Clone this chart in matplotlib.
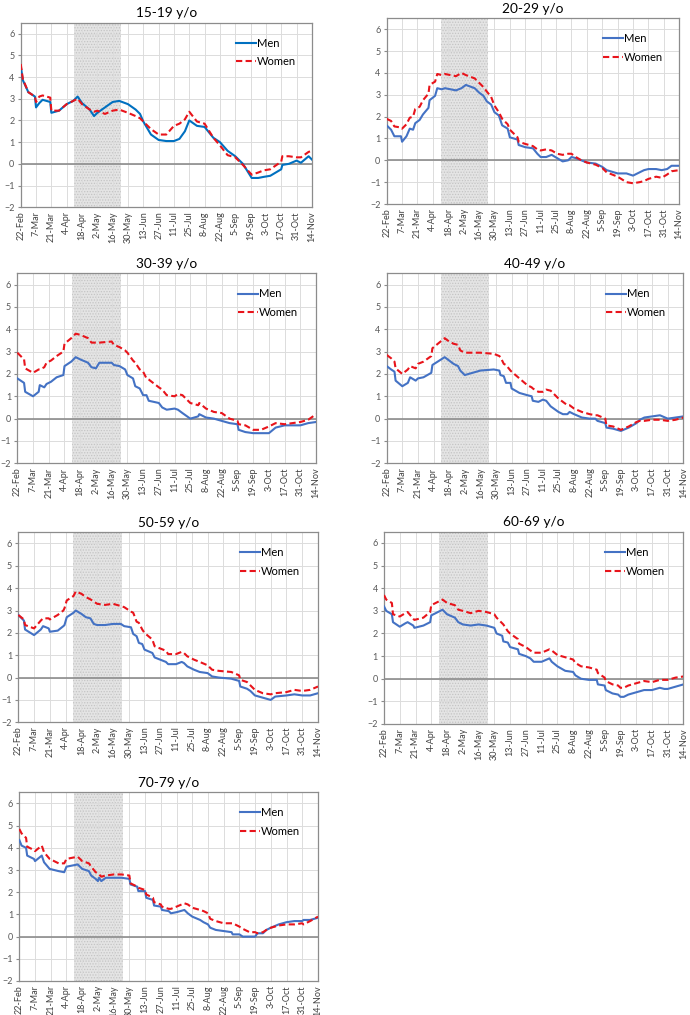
import matplotlib
matplotlib.use("Agg")
import numpy as np
import matplotlib.pyplot as plt

plt.rcParams['font.family'] = ['Lato', 'DejaVu Sans']
plt.rcParams['hatch.linewidth'] = 0.6

# --- DATOS (días desde 22-Feb) ---
tick_labels = ["22-Feb", "7-Mar", "21-Mar", "4-Apr", "18-Apr", "2-May", "16-May",
               "30-May", "13-Jun", "27-Jun", "11-Jul", "25-Jul", "8-Aug", "22-Aug",
               "5-Sep", "19-Sep", "3-Oct", "17-Oct", "31-Oct", "14-Nov"]
shade_start, shade_end = 49, 92

# 15-19
days_15 = [0, 2, 7, 13, 14, 17, 20, 27, 28, 35, 42, 48, 52, 56, 63, 67, 70, 77, 84, 90,
           98, 105, 109, 112, 119, 126, 133, 140, 145, 150, 154, 161, 168, 176, 182, 189,
           196, 203, 211, 217, 222, 228, 238, 239, 245, 252, 256, 263, 266]
men_15 = [4.5, 3.85, 3.3, 3.1, 2.6, 2.8, 2.95, 2.85, 2.35, 2.45, 2.75, 2.9, 3.1, 2.8, 2.5,
          2.2, 2.35, 2.6, 2.85, 2.9, 2.75, 2.5, 2.3, 1.95, 1.35, 1.1, 1.05, 1.05, 1.15, 1.5,
          2.0, 1.75, 1.7, 1.2, 1.0, 0.6, 0.35, 0.0, -0.65, -0.65, -0.6, -0.55, -0.25, -0.05,
          0.0, 0.15, 0.05, 0.35, 0.2]
women_15 = [4.6, 3.9, 3.3, 3.1, 2.85, 3.1, 3.15, 3.05, 2.45, 2.45, 2.75, 2.9, 3.0, 2.75,
            2.5, 2.4, 2.45, 2.3, 2.45, 2.5, 2.35, 2.2, 2.1, 1.95, 1.6, 1.35, 1.35, 1.75, 1.85,
            2.05, 2.4, 1.95, 1.85, 1.2, 0.85, 0.4, 0.3, -0.05, -0.5, -0.4, -0.3, -0.25, 0.1,
            0.35, 0.35, 0.3, 0.3, 0.55, 0.6]

# 20-29
days_20 = [0, 4, 7, 13, 14, 18, 21, 24, 26, 30, 33, 38, 39, 44, 46, 50, 53, 63, 68, 72, 80,
           84, 88, 91, 95, 98, 102, 105, 110, 112, 119, 120, 126, 133, 137, 140, 145, 150,
           155, 160, 165, 168, 172, 177, 182, 190, 196, 200, 210, 218, 224, 230, 234, 238,
           245, 250, 255, 259, 266]
men_20 = [1.6, 1.4, 1.1, 1.1, 0.85, 1.1, 1.45, 1.4, 1.7, 1.85, 2.1, 2.4, 2.75, 2.95, 3.3,
          3.25, 3.3, 3.2, 3.3, 3.45, 3.3, 3.1, 2.95, 2.7, 2.55, 2.2, 2.05, 1.6, 1.45, 1.05,
          0.95, 0.7, 0.6, 0.55, 0.3, 0.15, 0.15, 0.25, 0.1, -0.05, 0.0, 0.15, 0.1, 0.0, -0.1,
          -0.15, -0.3, -0.45, -0.6, -0.6, -0.7, -0.55, -0.45, -0.4, -0.4, -0.45, -0.4, -0.25,
          -0.25]
women_20 = [1.9, 1.8, 1.55, 1.5, 1.45, 1.65, 1.95, 2.0, 2.35, 2.45, 2.75, 3.05, 3.45, 3.6,
            3.95, 3.9, 3.95, 3.85, 4.0, 3.9, 3.75, 3.55, 3.35, 3.15, 2.9, 2.5, 2.2, 1.9, 1.65,
            1.4, 1.05, 0.85, 0.75, 0.65, 0.5, 0.45, 0.5, 0.45, 0.3, 0.25, 0.3, 0.3, 0.15, 0.0,
            -0.1, -0.2, -0.35, -0.55, -0.75, -1.0, -1.05, -1.0, -0.95, -0.85, -0.75, -0.8,
            -0.65, -0.5, -0.45]

# 30-39
days_30 = [0, 6, 7, 14, 19, 20, 24, 26, 30, 35, 41, 42, 48, 52, 56, 63, 66, 70, 73, 84, 86,
           91, 96, 98, 103, 105, 109, 112, 115, 117, 126, 129, 133, 140, 143, 147, 154, 161,
           162, 168, 175, 182, 189, 196, 197, 203, 210, 217, 224, 230, 238, 245, 252, 259, 266]
men_30 = [1.8, 1.6, 1.2, 1.0, 1.2, 1.5, 1.4, 1.55, 1.65, 1.85, 1.95, 2.35, 2.55, 2.75, 2.65,
          2.5, 2.3, 2.25, 2.5, 2.5, 2.4, 2.35, 2.2, 1.95, 1.8, 1.45, 1.35, 1.05, 1.05, 0.8,
          0.7, 0.5, 0.4, 0.45, 0.4, 0.25, 0.0, 0.1, 0.2, 0.05, 0.0, -0.1, -0.2, -0.25, -0.5,
          -0.6, -0.65, -0.65, -0.65, -0.4, -0.3, -0.3, -0.3, -0.2, -0.15]
women_30 = [2.95, 2.65, 2.25, 2.05, 2.2, 2.2, 2.3, 2.5, 2.6, 2.8, 3.0, 3.35, 3.6, 3.8, 3.75,
            3.6, 3.4, 3.4, 3.4, 3.45, 3.3, 3.2, 3.05, 2.95, 2.6, 2.5, 2.2, 2.1, 1.8, 1.75,
            1.4, 1.3, 1.05, 1.0, 1.1, 1.05, 0.7, 0.6, 0.7, 0.45, 0.3, 0.25, 0.0, -0.1, -0.25,
            -0.3, -0.5, -0.5, -0.35, -0.2, -0.25, -0.2, -0.15, -0.05, 0.2]

# 40-49
days_40 = [0, 4, 7, 8, 14, 19, 21, 26, 28, 33, 40, 41, 52, 56, 60, 64, 66, 70, 84, 96, 101,
           102, 105, 107, 111, 112, 119, 126, 130, 131, 136, 140, 143, 147, 154, 158, 162,
           164, 168, 175, 182, 187, 189, 196, 197, 203, 210, 217, 224, 227, 231, 238, 245,
           252, 259, 266]
men_40 = [2.35, 2.2, 2.1, 1.7, 1.45, 1.6, 1.85, 1.7, 1.8, 1.85, 2.05, 2.4, 2.75, 2.6, 2.45,
          2.35, 2.15, 1.95, 2.15, 2.2, 2.15, 1.95, 1.9, 1.6, 1.6, 1.35, 1.15, 1.05, 1.0, 0.8,
          0.75, 0.85, 0.8, 0.55, 0.3, 0.2, 0.2, 0.3, 0.2, 0.05, 0.0, 0.0, -0.1, -0.2, -0.4,
          -0.45, -0.55, -0.4, -0.2, -0.05, 0.05, 0.1, 0.15, 0.0, 0.05, 0.1]
women_40 = [2.85, 2.7, 2.55, 2.25, 2.0, 2.2, 2.35, 2.25, 2.45, 2.55, 2.8, 3.15, 3.6, 3.45,
            3.35, 3.3, 3.05, 2.95, 2.95, 2.9, 2.8, 2.75, 2.45, 2.4, 2.15, 2.1, 1.8, 1.5, 1.4,
            1.35, 1.2, 1.2, 1.3, 1.25, 0.9, 0.75, 0.6, 0.6, 0.45, 0.3, 0.2, 0.15, 0.15, 0.0,
            -0.3, -0.35, -0.5, -0.35, -0.15, -0.1, -0.1, -0.05, -0.05, -0.1, -0.05, 0.05]

# 50-59
days_50 = [0, 5, 6, 14, 20, 22, 27, 28, 35, 40, 41, 43, 49, 51, 56, 60, 64, 67, 70, 77, 84,
           91, 94, 100, 102, 105, 107, 110, 112, 119, 121, 126, 131, 133, 140, 145, 147, 150,
           156, 161, 168, 172, 178, 189, 196, 197, 203, 206, 210, 217, 224, 228, 238, 245,
           252, 259, 266]
men_50 = [2.8, 2.55, 2.15, 1.9, 2.15, 2.3, 2.2, 2.05, 2.1, 2.3, 2.35, 2.7, 2.9, 3.0, 2.85,
          2.7, 2.65, 2.4, 2.35, 2.35, 2.4, 2.4, 2.3, 2.25, 1.95, 1.85, 1.55, 1.5, 1.25, 1.1,
          0.9, 0.8, 0.7, 0.6, 0.6, 0.7, 0.65, 0.5, 0.35, 0.25, 0.2, 0.05, 0.0, -0.05, -0.15,
          -0.4, -0.5, -0.6, -0.8, -0.9, -1.0, -0.85, -0.8, -0.75, -0.8, -0.8, -0.7]
women_50 = [2.8, 2.6, 2.35, 2.2, 2.55, 2.65, 2.65, 2.6, 2.8, 3.0, 3.1, 3.45, 3.65, 3.85,
            3.75, 3.6, 3.5, 3.4, 3.3, 3.25, 3.3, 3.2, 3.15, 2.95, 2.9, 2.5, 2.45, 2.15, 2.0,
            1.7, 1.4, 1.3, 1.2, 1.05, 1.05, 1.15, 1.1, 0.95, 0.8, 0.7, 0.55, 0.35, 0.3, 0.25,
            0.1, -0.1, -0.2, -0.35, -0.55, -0.7, -0.75, -0.7, -0.65, -0.55, -0.6, -0.55, -0.4]

# 60-69
days_60 = [0, 2, 7, 8, 14, 19, 21, 26, 27, 35, 41, 42, 52, 56, 63, 66, 70, 77, 84, 91, 98,
           100, 105, 106, 110, 112, 119, 120, 126, 130, 133, 140, 147, 149, 154, 161, 168,
           170, 175, 182, 189, 190, 196, 197, 203, 208, 210, 213, 217, 224, 231, 238, 245,
           249, 252, 259, 266]
men_60 = [3.2, 3.0, 2.85, 2.5, 2.3, 2.45, 2.5, 2.35, 2.25, 2.35, 2.5, 2.8, 3.05, 2.85, 2.7,
          2.5, 2.4, 2.35, 2.4, 2.35, 2.25, 2.0, 1.9, 1.65, 1.6, 1.4, 1.3, 1.1, 1.0, 0.9, 0.75,
          0.75, 0.9, 0.75, 0.55, 0.35, 0.3, 0.15, 0.0, -0.05, -0.05, -0.25, -0.3, -0.5, -0.65,
          -0.7, -0.8, -0.8, -0.7, -0.6, -0.5, -0.5, -0.4, -0.45, -0.45, -0.35, -0.25]
women_60 = [3.7, 3.5, 3.35, 2.85, 2.75, 2.9, 2.95, 2.65, 2.6, 2.7, 2.95, 3.25, 3.5, 3.35,
            3.25, 3.05, 3.0, 2.9, 3.0, 2.95, 2.85, 2.7, 2.45, 2.4, 2.1, 2.0, 1.75, 1.55, 1.4,
            1.25, 1.15, 1.15, 1.3, 1.25, 1.05, 0.95, 0.85, 0.7, 0.55, 0.5, 0.4, 0.25, 0.05,
            -0.1, -0.25, -0.3, -0.4, -0.4, -0.3, -0.2, -0.1, -0.15, -0.05, -0.05, -0.05, 0.05,
            0.1]

# 70-79
days_70 = [0, 2, 6, 7, 13, 14, 20, 22, 27, 35, 40, 42, 52, 56, 62, 64, 68, 70, 71, 73, 77,
           84, 91, 98, 99, 105, 106, 112, 113, 119, 120, 126, 127, 133, 135, 140, 147, 150,
           154, 161, 164, 168, 170, 175, 182, 189, 190, 196, 199, 205, 210, 212, 217, 220,
           224, 231, 238, 245, 252, 253, 259, 266]
men_70 = [4.35, 4.1, 4.0, 3.65, 3.5, 3.4, 3.65, 3.35, 3.05, 2.95, 2.9, 3.15, 3.25, 3.05,
          2.95, 2.75, 2.6, 2.5, 2.65, 2.5, 2.65, 2.65, 2.65, 2.6, 2.35, 2.25, 2.05, 2.05,
          1.75, 1.65, 1.4, 1.35, 1.2, 1.15, 1.05, 1.1, 1.2, 1.05, 0.9, 0.75, 0.65, 0.55, 0.4,
          0.3, 0.25, 0.2, 0.1, 0.1, 0.0, 0.0, 0.0, 0.15, 0.15, 0.3, 0.4, 0.55, 0.65, 0.7,
          0.7, 0.75, 0.75, 0.85]
women_70 = [4.85, 4.65, 4.45, 4.05, 3.9, 3.85, 4.1, 3.8, 3.5, 3.3, 3.3, 3.5, 3.6, 3.4, 3.3,
            3.15, 2.9, 2.85, 2.8, 2.7, 2.75, 2.8, 2.8, 2.75, 2.4, 2.25, 2.2, 2.1, 1.9, 1.75,
            1.55, 1.45, 1.35, 1.25, 1.25, 1.35, 1.5, 1.45, 1.3, 1.2, 1.15, 1.05, 0.8, 0.7,
            0.6, 0.6, 0.6, 0.45, 0.35, 0.2, 0.2, 0.15, 0.2, 0.3, 0.4, 0.5, 0.55, 0.55, 0.6,
            0.55, 0.7, 0.9]

paneles = [
    ("15-19 y/o", days_15, men_15, women_15, "#0070C0", [0.030, 0.7958, 0.422, 0.1818]),
    ("20-29 y/o", days_20, men_20, women_20, "#4472C4", [0.5604, 0.799, 0.424, 0.183]),
    ("30-39 y/o", days_30, men_30, women_30, "#4472C4", [0.0251, 0.5435, 0.433, 0.1872]),
    ("40-49 y/o", days_40, men_40, women_40, "#4472C4", [0.5604, 0.5435, 0.430, 0.1872]),
    ("50-59 y/o", days_50, men_50, women_50, "#4472C4", [0.0265, 0.2884, 0.4344, 0.1872]),
    ("60-69 y/o", days_60, men_60, women_60, "#4472C4", [0.5565, 0.2867, 0.434, 0.1895]),
    ("70-79 y/o", days_70, men_70, women_70, "#4472C4", [0.028, 0.0335, 0.4329, 0.1859]),
]

fig = plt.figure(figsize=(6.9, 10.15), dpi=100)

for titulo, dias, hombres, mujeres, c_men, pos in paneles:
    ax = fig.add_axes(pos)
    # periodo sombreado
    ax.axvspan(shade_start, shade_end, facecolor='#e4e4e4', edgecolor='#c4c4c4',
               hatch='......', linewidth=0, zorder=0)
    ax.axhline(0, color='#8c8c8c', lw=1.2, zorder=1)
    ax.plot(dias, hombres, color=c_men, lw=1.5, label='Men', zorder=3)
    ax.plot(dias, mujeres, color='#E8141B', lw=1.5, ls=(0, (3, 1.6)), label='Women', zorder=4)

    ax.set_xlim(0, 266)
    ax.set_ylim(-2, 6.5)
    ax.set_xticks(np.arange(0, 267, 14))
    ax.set_xticklabels(tick_labels, rotation=90, fontsize=6.5, color='#404040')
    ax.set_yticks(np.arange(-2, 7, 1))
    ax.tick_params(axis='y', labelsize=6.5, labelcolor='#595959', length=2.5, color='#8c8c8c', pad=2)
    ax.tick_params(axis='x', length=0, pad=3)
    ax.grid(True, color='#dcdcdc', lw=0.7, zorder=0)
    ax.set_axisbelow(True)
    for s in ax.spines.values():
        s.set_color('#8c8c8c')
        s.set_linewidth(0.9)
    ax.set_title(titulo, fontsize=9.8, pad=4)
    ax.legend(loc='upper left', bbox_to_anchor=(0.72, 0.95), frameon=False, fontsize=8,
              handlelength=1.8, handletextpad=0.1, labelspacing=0.7, borderpad=0)

plt.savefig("out.png", dpi=100)
